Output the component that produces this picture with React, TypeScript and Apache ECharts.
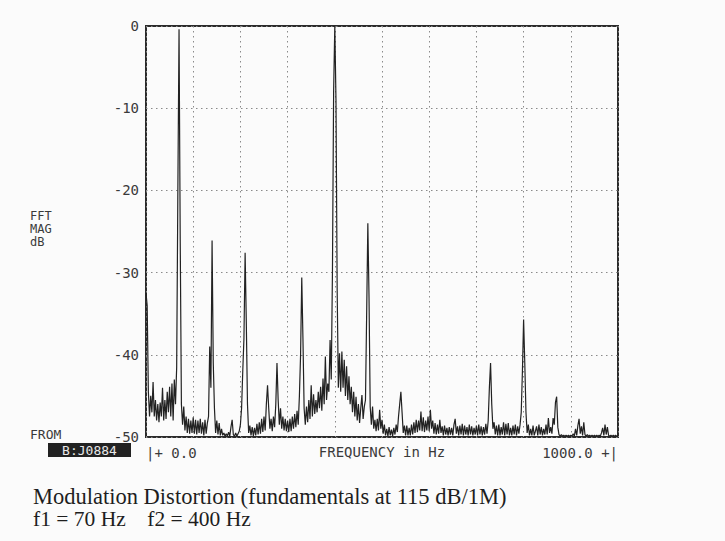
import React, { useEffect, useRef } from "react";
import * as echarts from "echarts";

// Spectrum bins: 2.5 Hz spacing, 0 .. 1000 Hz, magnitude in dB
const binHz = 2.5;
const band000 = [
  -32.5, -34, -44.5, -47.5, -45, -47, -43.3, -47.5, -45.5, -48, -46, -48.2, -45.8, -47.5, -44, -48, -45.5, -47.8, -44.5, -47,
  -43.9, -47.5, -43.5, -48, -43, -46, -41.5, -20, -0.4, -26, -46, -48.5, -46.3, -49.2, -47.5, -49.5, -47.8, -49.6, -48, -49.5,
];
const band100 = [
  -47.6, -49.6, -47.9, -49.7, -48, -49.5, -47.8, -49.6, -48.2, -49.8, -47.9, -49.6, -48.3, -47.5, -39, -44, -26.1, -41, -46.5, -49.5,
  -48, -49.7, -48.3, -49.8, -49, -49.8, -49.5, -49.9, -49.6, -49.9, -49.4, -49.9, -48.8, -47.9, -49.7, -49.9, -49.5, -49.9, -49.6, -49.3,
];
const band200 = [
  -48.5, -46.5, -42, -38, -27.6, -36, -46, -49.5, -48.6, -49.8, -48.8, -49.9, -48.9, -49.8, -48.4, -49.7, -48.2, -49.6, -47.8, -49.4,
  -47.5, -49.2, -46, -43.7, -46.5, -49, -47.8, -49.3, -47.5, -48.8, -46, -41, -45.5, -48.5, -46.5, -49, -47.5, -49.2, -47.8, -49.3,
];
const band300 = [
  -48, -49.4, -47.8, -49.3, -47.5, -49, -47.2, -48.8, -46.8, -48.5, -45, -40, -30.6, -38, -46.5, -48.5, -46.3, -48.2, -45.5, -47.8,
  -43.7, -47.5, -44.8, -47.2, -45.5, -47, -44.5, -46.5, -43.9, -46.8, -42.9, -46, -40.2, -45.5, -43.5, -44.5, -38.2, -43, -30, -8,
];
const band400 = [
  0, -9, -32, -44, -39.8, -44.5, -39.6, -44, -40.6, -45, -41.4, -45.5, -42.6, -46, -43.9, -47, -44.5, -47.5, -45.1, -48,
  -46, -48.3, -46.5, -44.9, -47.8, -46.3, -45.5, -35, -24, -33, -46.3, -48.5, -46.3, -49, -47.9, -49.3, -47.8, -49.2, -46.7, -49,
];
const band500 = [
  -47.9, -49.6, -48.5, -49.8, -49, -49.9, -48.8, -49.8, -49.1, -49.9, -48.9, -49.7, -48.5, -49.4, -47.5, -46, -44.5, -47, -49.5, -48.6,
  -49.8, -48.6, -49.8, -48.9, -49.8, -48.5, -49.7, -48.2, -49.5, -47.9, -49.4, -48, -49.2, -46.9, -49.3, -47.6, -49.4, -48, -49.2, -47.5,
];
const band600 = [
  -49.3, -46.7, -49, -48, -49.6, -48.3, -49.7, -48.5, -49.6, -47.9, -49.5, -48.7, -49.8, -48.6, -49.7, -48.9, -49.8, -48.8, -49.7, -48.9,
  -49.8, -48.5, -47.8, -49.6, -48.7, -49.8, -48.6, -49.7, -48.4, -49.8, -48.6, -49.7, -48.8, -49.8, -48.5, -49.7, -48.7, -49.8, -48.9, -49.7,
];
const band700 = [
  -48.6, -49.8, -48.5, -49.7, -48.7, -49.8, -48.8, -49.7, -48.4, -49.6, -48, -44, -41, -46, -49, -48.2, -49.7, -48.6, -49.8, -48.5,
  -49.8, -48.8, -49.7, -48.2, -49.8, -48.4, -49.7, -48.3, -49.8, -48.9, -49.8, -48.6, -49.7, -48.5, -49.8, -48.7, -49.6, -48.5, -47, -42,
];
const band800 = [
  -35.7, -41, -47, -49.5, -48.5, -49.8, -49, -49.8, -48.6, -49.8, -49.3, -48.7, -49.8, -48.5, -49.7, -48.8, -49.8, -49, -49.7, -48.5,
  -49.7, -47.7, -49.5, -48.8, -49.6, -47.7, -48.5, -45.8, -45.1, -48.8, -49.7, -49.9, -49.7, -49.9, -49.8, -49.9, -49.8, -49.9, -49.8, -49.9,
];
const band900 = [
  -49.8, -49.9, -49.6, -49.9, -49, -49.8, -48.6, -47.8, -49.6, -48.7, -49.8, -48.2, -49.7, -49.9, -49.7, -49.9, -49.8, -49.9, -49.8, -49.9,
  -49.8, -49.9, -49.8, -49.9, -49.8, -49.9, -49.5, -48.9, -49.8, -48.5, -49.7, -48.8, -49.8, -49.9, -49.8, -49.9, -49.8, -49.9, -49.8, -49.9,
  -49.9,
];

const yTicks = ["0", "-10", "-20", "-30", "-40", "-50"];
const xStartLabel = "|+ 0.0";
const xEndLabel = "1000.0 +|";
const xName = "FREQUENCY in Hz";
const yNameLines = ["FFT", "MAG", "dB"];
const fromLabel = "FROM";
const traceLabel = "B:J0884";
const caption1 = "Modulation Distortion (fundamentals at 115 dB/1M)";
const caption2 = "f1 = 70 Hz    f2 = 400 Hz";

const MONO = "'DejaVu Sans Mono', monospace";
const SERIF = "'Liberation Serif', serif";
const INK = "#3a3a3a";

export default function App() {
  const ref = useRef<HTMLDivElement>(null);
  useEffect(() => {
    if (!ref.current) return;
    const chart = echarts.init(ref.current, undefined, { renderer: "svg" });
    const mags = [
      ...band000, ...band100, ...band200, ...band300, ...band400,
      ...band500, ...band600, ...band700, ...band800, ...band900,
    ];
    const data = mags.map((v, i) => [i * binHz, v]);
    const grid = { left: 146, right: 107, top: 26, bottom: 104 };
    const gridLine = { show: true, lineStyle: { color: "#8a8a8a", type: [1.5, 3.5], width: 1 } };
    chart.setOption({
      animation: false,
      backgroundColor: "#fbfbfb",
      grid: { ...grid, show: true, borderColor: "#2b2b2b", borderWidth: 2, backgroundColor: "transparent" },
      xAxis: {
        type: "value",
        min: 0,
        max: 1000,
        interval: 100,
        axisLine: { show: false },
        axisTick: { show: false },
        splitLine: gridLine,
        axisLabel: {
          showMinLabel: true,
          showMaxLabel: true,
          alignMinLabel: "left",
          alignMaxLabel: "right",
          margin: 9,
          fontFamily: MONO,
          fontSize: 14,
          color: INK,
          formatter: (v: number) => (v === 0 ? xStartLabel : v === 1000 ? xEndLabel : ""),
        },
      },
      yAxis: {
        type: "value",
        min: -50,
        max: 0,
        interval: 10,
        axisLine: { show: false },
        axisTick: { show: false },
        splitLine: gridLine,
        axisLabel: {
          margin: 7,
          fontFamily: MONO,
          fontSize: 14,
          color: INK,
          formatter: (v: number) => yTicks[Math.round(-v / 10)] ?? "",
        },
      },
      series: [
        {
          type: "line",
          data,
          symbol: "none",
          showSymbol: false,
          silent: true,
          lineStyle: { color: "#222", width: 1.2 },
        },
      ],
      graphic: [
        ...yNameLines.map((t, i) => ({
          type: "text",
          left: 30,
          top: 210 + i * 13,
          style: { text: t, fontFamily: MONO, fontSize: 12, fill: INK },
        })),
        {
          type: "text",
          x: 382,
          y: 452,
          style: { text: xName, fontFamily: MONO, fontSize: 14, fill: INK, align: "center", verticalAlign: "middle" },
        },
        {
          type: "text",
          left: 30,
          top: 428,
          style: { text: fromLabel, fontFamily: MONO, fontSize: 13, fill: INK },
        },
        {
          type: "rect",
          shape: { x: 48, y: 443, width: 83, height: 14 },
          style: { fill: "#222" },
        },
        {
          type: "text",
          x: 89.5,
          y: 450,
          style: {
            text: traceLabel,
            fontFamily: MONO,
            fontSize: 13,
            fill: "#e8e8e8",
            align: "center",
            verticalAlign: "middle",
          },
        },
        {
          type: "text",
          left: 33,
          top: 485,
          style: { text: caption1, fontFamily: SERIF, fontSize: 22.5, fill: "#1e1e1e" },
        },
        {
          type: "text",
          left: 33,
          top: 508,
          style: { text: caption2, fontFamily: SERIF, fontSize: 21.5, fill: "#1e1e1e" },
        },
      ],
    });
    return () => chart.dispose();
  }, []);
  return (
    <div
      ref={ref}
      style={{ position: "fixed", left: 0, top: 0, width: 725, height: 541 }}
    />
  );
}
